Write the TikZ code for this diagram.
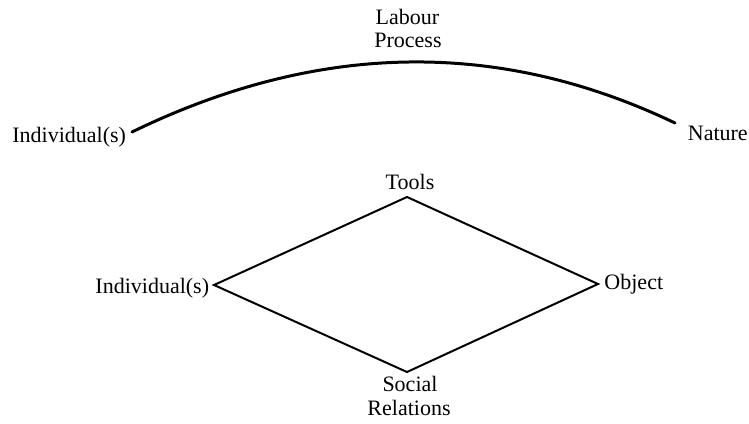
\documentclass[tikz,border=0pt]{standalone}
\usepackage{fontspec}
\setmainfont{Liberation Serif}
\begin{document}
\begin{tikzpicture}[x=1pt,y=-1pt,
  lbl/.style={inner sep=0pt,anchor=base,font=\fontsize{22}{23.4}\selectfont},
  arcline/.style={line width=3pt,line cap=round},
  dline/.style={line width=2pt,line join=miter}]
\useasboundingbox (0,0) rectangle (749,423);
% top part
\node[lbl] (lab) at (407.5,24.3) {Labour};
\node[lbl] (proc) at (408,47.7) {Process};
\node[lbl] (ind1) at (69.2,142.7) {Individual(s)};
\node[lbl] (nat) at (717.8,140.7) {Nature};
\coordinate (a0) at (132,132);
\coordinate (a1) at (675,123);
\draw[arcline] (a0) .. controls (317.7,41.7) and (498.7,38.7) .. (a1);
% diamond
\node[lbl] (tools) at (410,189.3) {Tools};
\node[lbl] (ind2) at (152.3,293) {Individual(s)};
\node[lbl] (obj) at (633.8,289) {Object};
\node[lbl] (soc) at (410,391.7) {Social};
\node[lbl] (rel) at (409,415) {Relations};
\coordinate (dt) at (407,197);
\coordinate (dl) at (214,285);
\coordinate (dr) at (598,284);
\coordinate (db) at (407,372);
\draw[dline] (dt) -- (dr) -- (db) -- (dl) -- cycle;
\end{tikzpicture}
\end{document}
